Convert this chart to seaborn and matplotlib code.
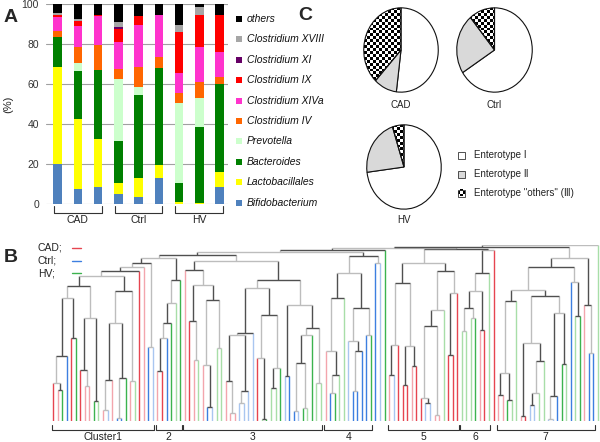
import numpy as np
import pandas as pd
import matplotlib
matplotlib.use('Agg')
import matplotlib.pyplot as plt
import seaborn as sns
from matplotlib.patches import Rectangle

sns.set_theme(style='white')
plt.rcParams['font.family'] = ['Liberation Sans', 'DejaVu Sans', 'Noto Sans CJK JP']

W, H = 600, 442

# ---------------- panel A: composition (%) of each sample
samples = ['CAD1', 'CAD2', 'CAD3', 'Ctrl1', 'Ctrl2', 'Ctrl3', 'HV1', 'HV2', 'HV3']
groups = ['CAD', 'Ctrl', 'HV']
taxa = ['Bifidobacterium', 'Lactobacillales', 'Bacteroides', 'Prevotella',
        'Clostridium IV', 'Clostridium XIVa', 'Clostridium IX', 'Clostridium XI',
        'Clostridium XVIII', 'others']
bifido     = [20.0, 7.3, 8.3, 4.8, 3.3, 12.8, 0.0, 0.0, 8.7]
lacto      = [48.7, 35.0, 24.0, 5.5, 9.7, 6.7, 1.2, 0.7, 7.1]
bactero    = [14.6, 24.4, 34.7, 21.4, 41.5, 48.3, 9.5, 37.6, 44.2]
prevo      = [0.0, 3.6, 0.0, 30.8, 3.8, 0.0, 40.0, 14.5, 0.0]
clos_iv    = [3.2, 8.4, 12.5, 5.0, 10.4, 5.5, 4.6, 8.4, 3.3]
clos_xiva  = [6.8, 10.3, 14.5, 13.3, 20.8, 21.2, 10.4, 17.5, 12.9]
clos_ix    = [1.0, 2.3, 0.7, 6.5, 4.5, 0.0, 20.1, 15.8, 18.3]
clos_xi    = [0.0, 0.0, 0.0, 1.0, 0.0, 0.0, 0.0, 0.0, 0.0]
clos_xviii = [1.0, 1.0, 0.0, 2.5, 0.0, 0.0, 3.7, 3.8, 0.0]
others     = [4.7, 7.7, 5.3, 9.2, 6.0, 5.5, 10.5, 1.7, 5.5]
taxa_colors = ['#4f81bd', '#ffff00', '#008000', '#ccffcc', '#ff6600',
               '#ff33cc', '#ff0000', '#660066', '#a6a6a6', '#000000']

# ---------------- panel C: enterotype share (%)
pie_groups = ['CAD', 'Ctrl', 'HV']
entero_1 = [52, 66, 73]
entero_2 = [10, 23, 22]
entero_3 = [38, 11, 5]

# ---------------- panel B: clustering tree
# leaf = group code (R/r CAD, B/b Ctrl, G/g HV; upper case = darker line)
# node = [left, right, merge height]
c1a = [[['R', ['r', 'G', 31], 38], 'B', 65], ['R', 'G', 83], 123]
c1b = [['R', ['r', 'r', 35], 51], ['G', 'g', 20], 103]
c1c = [[[['r', 'b', 11], 'r', 41], [['B', 'B', 3], 'G', 43], 98], ['r', 'g', 40], 130]
cl1 = [[[[[c1a, c1b, 135], c1c, 145], 'R', 150], 'r', 154], ['B', 'b', 74], 158]
cl2 = [[[[['r', 'R', 50], 'B', 83], 'G', 98], 'g', 118], 'G', 141]
c3a = ['r', [['R', ['r', 'g', 61], 100], [['r', ['B', 'b', 14], 56], ['g', 'g', 73], 121], 136], 151]
c3b = [[['r', ['r', 'r', 8], 40], [['b', 'b', 18], 'b', 30], 86], 'b', 88]
c3c = [['R', ['g', 'G', 2], 63], [['g', 'g', 33], 'G', 53], 106]
c3d = [['b', 'B', 45], [[[['B', 'b', 10], ['G', 'g', 13], 58], 'G', 86], ['g', 'g', 38], 93], 116]
cl3 = [c3a, [[c3b, c3c, 133], c3d, 141], 160]
cl4 = [[['r', [['B', 'G', 28], 'g', 46], 70], 'g', 123],
       [['b', [['B', 'B', 30], 'B', 70], 80], ['B', 'G', 86], 113], 148]
cl5 = [[[['r', 'b', 46], 'R', 76], [['R', 'R', 36], ['r', 'R', 55], 75], 138],
       [[[['R', ['b', 'b', 18], 23], ['r', 'r', 6], 95], 'g', 111], [['R', 'R', 66], 'R', 128], 150], 158]
cl6 = [[[['g', 'g', 90], ['g', 'G', 103], 113], ['r', 'R', 91], 130], 'g', 148]
c7a = [[['r', 'r', 26], ['G', 'g', 21], 48], 'g', 120]
c7b = [[['r', 'R', 5], [[['b', 'b', 16], 'g', 28], 'g', 60], 78],
       [[['b', 'b', 2], 'B', 25], ['G', 'g', 57], 108], 125]
cl7 = [[[c7a, c7b, 131], ['B', ['g', 'G', 105], 139], 154], ['r', ['B', 'B', 68], 116], 163]
tree = [[[[[[[cl1, cl2, 163], cl3, 166], [cl4, ['B', 'b', 158], 165], 169], 'G', 171],
           [cl5, [cl6, 'R', 171], 172], 173], cl7, 174], 'g', 176]
cluster_nodes = [cl1, cl2, cl3, cl4, cl5, cl6, cl7]
cluster_names = ['Cluster1', '2', '3', '4', '5', '6', '7']

leaf_colors = {'R': '#e64550', 'r': '#f3a5ad', 'B': '#3d7fe0', 'b': '#a9c6f0',
               'G': '#3cb34e', 'g': '#a8dea8'}
node_colors = ['#bdbdbd', '#505050']


def px_rect(x0, y0, x1, y1):
    return [x0 / W, 1 - y1 / H, (x1 - x0) / W, (y1 - y0) / H]


fig = plt.figure(figsize=(W / 100, H / 100), dpi=100)

# ---------------- A
axA = fig.add_axes(px_rect(46, 4, 228, 204))
df = pd.DataFrame(dict(zip(taxa, [bifido, lacto, bactero, prevo, clos_iv, clos_xiva,
                                  clos_ix, clos_xi, clos_xviii, others])))
cum = df.cumsum(axis=1)
cum['sample'] = samples
for taxon, col in reversed(list(zip(taxa, taxa_colors))):
    sns.barplot(data=cum, x='sample', y=taxon, order=samples, color=col, width=0.42,
                saturation=1, errorbar=None, linewidth=0, ax=axA)
axA.set_xlim(-0.57, 8.42)
axA.set_ylim(0, 100)
axA.set_yticks(range(0, 101, 20))
axA.set_xticks([])
axA.set_xlabel('')
axA.set_ylabel('(%)', fontsize=8, color='#222222', labelpad=6)
axA.yaxis.grid(True, color='#a0a0a0', linewidth=0.8)
axA.set_axisbelow(True)
axA.tick_params(axis='y', length=0, labelsize=7.5, labelcolor='#333333', pad=5)
for s in axA.spines.values():
    s.set_visible(False)
for g, name in enumerate(groups):
    x0, x1 = g * 3 - 0.18, g * 3 + 2.18
    axA.plot([x0, x0, x1, x1], [-1, -4.5, -4.5, -1], color='#333333', lw=0.8, clip_on=False)
    axA.text(g * 3 + 1, -8, name, ha='center', va='center', fontsize=7.5, color='#222222')

# ---------------- B
state = {'i': 0}
segs = []
ranges = {}


def layout(node, depth):
    if isinstance(node, str):
        x = state['i']
        state['i'] += 1
        return x, 0.0, leaf_colors[node]
    start = state['i']
    left, right, h = node
    col = node_colors[depth % 2]
    xl, hl, cl = layout(left, depth + 1)
    xr, hr, cr = layout(right, depth + 1)
    segs.append(([xl, xl], [hl, h], cl))
    segs.append(([xr, xr], [hr, h], cr))
    segs.append(([xl, xr], [h, h], col))
    ranges[id(node)] = (start, state['i'] - 1)
    return (xl + xr) / 2, h, col


layout(tree, 0)
n_leaves = state['i']
step = (598 - 53) / (n_leaves - 1)
axB = fig.add_axes(px_rect(50, 245, 600, 421))
for xs, ys, c in segs:
    axB.plot(xs, ys, color=c, lw=1.0, solid_capstyle='butt')
axB.set_xlim(-3 / step, n_leaves - 1 + 2 / step)
axB.set_ylim(0, 176)
axB.axis('off')
for node, name in zip(cluster_nodes, cluster_names):
    a, b = ranges[id(node)]
    x0, x1 = a - 0.3, b + 0.3
    axB.plot([x0, x0, x1, x1], [-4, -9, -9, -4], color='#333333', lw=0.8, clip_on=False)
    axB.text((x0 + x1) / 2, -16, name, ha='center', va='center', fontsize=7.5, color='#222222')

# ---------------- C
checker = np.indices((29, 25)).sum(axis=0) % 2
pie_boxes = [(363, 7, 439, 93), (456, 7, 533, 93), (366, 124, 442, 210)]
for k, name in enumerate(pie_groups):
    ax = fig.add_axes(px_rect(*pie_boxes[k]))
    wedges, _ = ax.pie([entero_1[k], entero_2[k], entero_3[k]],
                       colors=['white', '#d9d9d9', 'white'], startangle=90,
                       counterclock=False,
                       wedgeprops=dict(edgecolor='#111111', linewidth=0.8))
    wedges[2].set_facecolor('none')
    im = ax.imshow(checker, cmap='binary', extent=(-1, 1, -1, 1), aspect='auto',
                   interpolation='nearest', zorder=0.5)
    im.set_clip_path(wedges[2])
    ax.set_aspect('auto')
    ax.set_xlim(-1.02, 1.02)
    ax.set_ylim(-1.02, 1.02)

# ---------------- overlay: labels and legends (pixel coordinates)
ov = fig.add_axes([0, 0, 1, 1])
ov.axis('off')
ov.text(4, 17, 'A', fontsize=14, fontweight='bold', va='center')
ov.text(4, 258, 'B', fontsize=14, fontweight='bold', va='center')
ov.text(298, 15, 'C', fontsize=14, fontweight='bold', va='center')

for k, (taxon, col) in enumerate(reversed(list(zip(taxa, taxa_colors)))):
    y = 19 + k * 20.4
    ov.add_patch(Rectangle((236, y - 3), 6, 6, color=col, lw=0))
    ov.text(247, y, taxon, style='italic', fontsize=7.5, va='center', color='#111111')

for k, (name, col) in enumerate(zip(groups, ['#e64550', '#3d7fe0', '#3cb34e'])):
    y = 248 + k * 12.7
    ov.text(38, y, name + ';', fontsize=7.5, va='center', color='#222222')
    ov.plot([72, 81], [y, y], color=col, lw=1.0)

ov.text(401, 105, 'CAD', fontsize=7, ha='center', va='center', color='#222222')
ov.text(494, 105, 'Ctrl', fontsize=7, ha='center', va='center', color='#222222')
ov.text(404, 220, 'HV', fontsize=7, ha='center', va='center', color='#222222')

legC = ['Enterotype Ⅰ', 'Enterotype Ⅱ', 'Enterotype "others" (Ⅲ)']
for k, lab in enumerate(legC):
    y = 155 + k * 19
    if k < 2:
        ov.add_patch(Rectangle((458, y - 3.5), 7, 7, facecolor=['white', '#d9d9d9'][k],
                               edgecolor='#333333', lw=0.6))
    else:
        ov.imshow(np.indices((3, 3)).sum(axis=0) % 2, cmap='binary', aspect='auto',
                  extent=(458, 465, y + 3.5, y - 3.5), interpolation='nearest')
        ov.add_patch(Rectangle((458, y - 3.5), 7, 7, facecolor='none',
                               edgecolor='#333333', lw=0.6))
    ov.text(474, y, lab, fontsize=7, va='center', color='#222222')

ov.set_xlim(0, W)
ov.set_ylim(H, 0)

fig.savefig('out.png', dpi=100)
